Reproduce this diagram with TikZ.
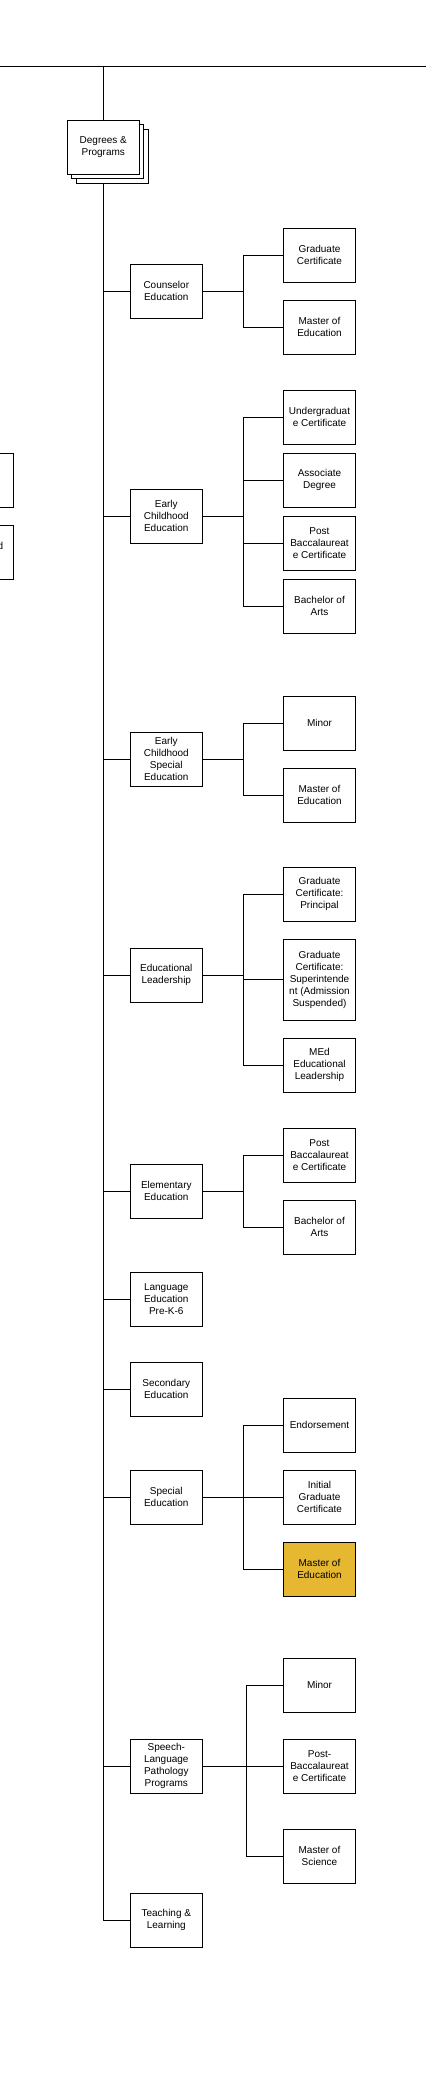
\documentclass[tikz,border=0pt]{standalone}
\usepackage{fontspec}
\setmainfont{Liberation Sans}
\definecolor{gold}{RGB}{230,184,50}
\begin{document}
\begin{tikzpicture}[x=1pt,y=-1pt,
  box/.style={draw, line width=1pt, fill=white, minimum width=72pt, minimum height=54pt, inner sep=1pt, align=center, font=\fontsize{10}{12}\selectfont},
  tallbox/.style={box, minimum height=81pt},
  goldbox/.style={box, fill=gold},
  conn/.style={line width=1pt}]
\useasboundingbox (0,0) rectangle (426,2084);

% top line and trunk
\coordinate (tl0) at (0,66.5);
\coordinate (tl1) at (426,66.5);
\coordinate (trunktop) at (103.5,66.5);
\draw[conn] (tl0) -- (tl1);

% program nodes (parents)
\node[box] (tl) at (166.3,1920.3) {Teaching \&\\Learning};
\draw[conn] (trunktop) |- (tl.west);

% Degrees & Programs (stacked)
\node[box] (degC) at (112.3,156.3) {};
\node[box] (degB) at (107.2,151.7) {};
\node[box] (deg) at (103.3,147.3) {Degrees \&\\Programs};

% clipped boxes at left edge
\begin{scope}
\clip (0,0) rectangle (426,2084);
\node[box] (lp1) at (-22.3,480.3) {};
\node[box] (lp2) at (-22.3,552.3) {};
\node[anchor=east, inner sep=0pt, font=\fontsize{10}{12}\selectfont] (lp2t) at (3.5,546.3) {d};
\end{scope}

\node[box] (ce) at (166.3,291.3) {Counselor\\Education};
\node[box] (ece) at (166.3,516.3) {Early\\Childhood\\Education};
\node[box] (ecse) at (166.3,759.3) {Early\\Childhood\\Special\\Education};
\node[box] (el) at (166.3,975.3) {Educational\\Leadership};
\node[box] (ee) at (166.3,1191.3) {Elementary\\Education};
\node[box] (le) at (166.3,1299.3) {Language\\Education\\Pre-K-6};
\node[box] (se) at (166.3,1389.3) {Secondary\\Education};
\node[box] (spe) at (166.3,1497.3) {Special\\Education};
\node[box] (slp) at (166.3,1766.3) {Speech-\\Language\\Pathology\\Programs};

\foreach \n in {ce,ece,ecse,el,ee,le,se,spe,slp}
  \draw[conn] (trunktop |- \n.west) -- (\n.west);

% children
\node[box] (ce1) at (319.5,255.3) {Graduate\\Certificate};
\node[box] (ce2) at (319.5,327.3) {Master of\\Education};

\node[box] (ece1) at (319.5,417.3) {Undergraduat\\e Certificate};
\node[box] (ece2) at (319.5,480.3) {Associate\\Degree};
\node[box] (ece3) at (319.5,543.3) {Post\\Baccalaureat\\e Certificate};
\node[box] (ece4) at (319.5,606.3) {Bachelor of\\Arts};

\node[box] (ecse1) at (319.5,723.3) {Minor};
\node[box] (ecse2) at (319.5,795.3) {Master of\\Education};

\node[box] (el1) at (319.5,894.3) {Graduate\\Certificate:\\Principal};
\node[tallbox] (el2) at (319.5,979.8) {Graduate\\Certificate:\\Superintende\\nt (Admission\\Suspended)};
\node[box] (el3) at (319.5,1065.3) {MEd\\Educational\\Leadership};

\node[box] (ee1) at (319.5,1155.3) {Post\\Baccalaureat\\e Certificate};
\node[box] (ee2) at (319.5,1227.3) {Bachelor of\\Arts};

\node[box] (spe1) at (319.5,1425.3) {Endorsement};
\node[box] (spe2) at (319.5,1497.3) {Initial\\Graduate\\Certificate};
\node[goldbox] (spe3) at (319.5,1569.3) {Master of\\Education};

\node[box] (slp1) at (319.5,1685.3) {Minor};
\node[box] (slp2) at (319.5,1766.3) {Post-\\Baccalaureat\\e Certificate};
\node[box] (slp3) at (319.5,1856.3) {Master of\\Science};

% branch connectors
\coordinate (bx) at (243.3,0);
\coordinate (bxs) at (246,0);

\draw[conn] (ce.east) -- (bx |- ce.east);
\draw[conn] (ce1.west) -| (bx |- ce2.west) -- (ce2.west);

\draw[conn] (ece.east) -- (bx |- ece.east);
\draw[conn] (ece1.west) -| (bx |- ece4.west) -- (ece4.west);
\draw[conn] (bx |- ece2.west) -- (ece2.west);
\draw[conn] (bx |- ece3.west) -- (ece3.west);

\draw[conn] (ecse.east) -- (bx |- ecse.east);
\draw[conn] (ecse1.west) -| (bx |- ecse2.west) -- (ecse2.west);

\draw[conn] (el.east) -- (bx |- el.east);
\draw[conn] (el1.west) -| (bx |- el3.west) -- (el3.west);
\draw[conn] (bx |- el2.west) -- (el2.west);

\draw[conn] (ee.east) -- (bx |- ee.east);
\draw[conn] (ee1.west) -| (bx |- ee2.west) -- (ee2.west);

\draw[conn] (spe.east) -- (bx |- spe.east);
\draw[conn] (spe1.west) -| (bx |- spe3.west) -- (spe3.west);
\draw[conn] (bx |- spe2.west) -- (spe2.west);

\draw[conn] (slp.east) -- (bxs |- slp.east);
\draw[conn] (slp1.west) -| (bxs |- slp3.west) -- (slp3.west);
\draw[conn] (bxs |- slp2.west) -- (slp2.west);
\end{tikzpicture}
\end{document}
